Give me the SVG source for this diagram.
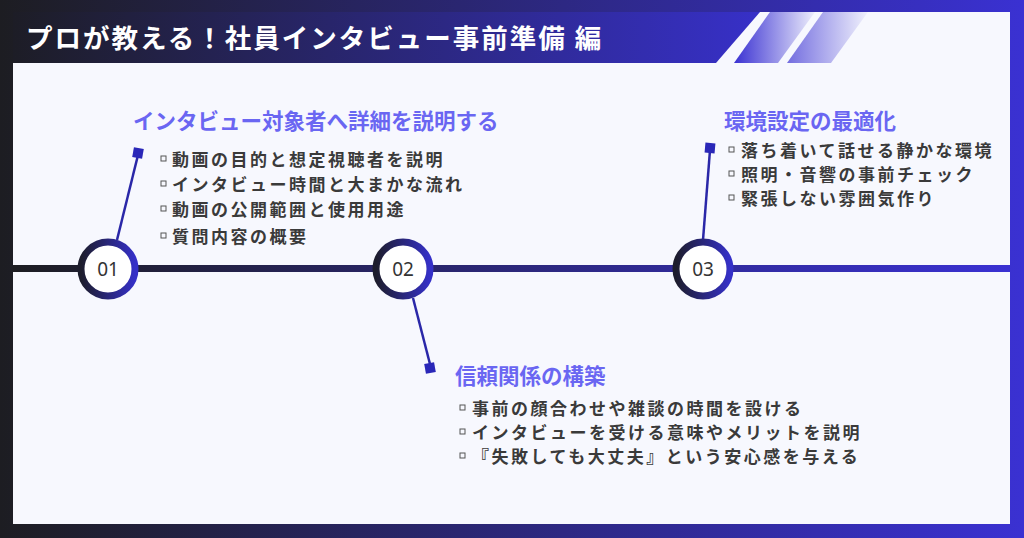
<svg xmlns="http://www.w3.org/2000/svg" width="1024" height="538" viewBox="0 0 1024 538">
<defs>
<linearGradient id="bg" x1="0" y1="0" x2="1" y2="0"><stop offset="0" stop-color="#1d1d22"/><stop offset="1" stop-color="#3a31d2"/></linearGradient>
<linearGradient id="tb" x1="0" y1="0" x2="1" y2="0"><stop offset="0" stop-color="#1d1d26"/><stop offset="1" stop-color="#3730c8"/></linearGradient>
<linearGradient id="st" x1="0" y1="0" x2="1" y2="0"><stop offset="0" stop-color="#3a31d2"/><stop offset="1" stop-color="#3a31d2" stop-opacity="0.05"/></linearGradient>
<linearGradient id="ring" x1="0" y1="0" x2="1" y2="0"><stop offset="0" stop-color="#1d1d2c"/><stop offset="1" stop-color="#3530c8"/></linearGradient>
<style>
.h{font-family:"Noto Sans CJK JP",sans-serif;font-size:21.5px;font-weight:bold;fill:#6a66f2}
.b{font-family:"Noto Sans CJK JP",sans-serif;font-size:17px;font-weight:bold;fill:#3a3a3a;letter-spacing:2.5px}
.m{fill:none;stroke:#555;stroke-width:1}
.n{font-family:"Noto Sans",sans-serif;font-size:19px;fill:#333;text-anchor:middle}
.c{stroke:#2a27a8;stroke-width:2.5}
</style>
</defs>
<rect width="1024" height="538" fill="url(#bg)"/>
<rect x="13" y="12" width="997" height="512" fill="#f7f8fe"/>
<path d="M13 12H760L716 63H13Z" fill="url(#tb)"/>
<path d="M770 12H815L778 63H734Z" fill="url(#st)"/>
<path d="M823 12H868L831 63H787Z" fill="url(#st)" opacity="0.7"/>
<text x="26" y="48" font-family="Noto Sans CJK JP,sans-serif" font-size="26.5" font-weight="bold" fill="#fff" letter-spacing="2">プロが教える！社員インタビュー事前準備 編</text>
<rect x="13" y="265" width="997" height="7" fill="url(#bg)"/>
<g id="connectors">
<line class="c" x1="117" y1="240" x2="138" y2="155"/>
<rect x="133" y="148" width="10" height="10" fill="#2a27b8" transform="rotate(10 138 153)"/>
<line class="c" x1="413" y1="298" x2="431" y2="368"/>
<rect x="425" y="363" width="10" height="10" fill="#2a27b8" transform="rotate(-10 430 368)"/>
<line class="c" x1="703" y1="240" x2="710" y2="150"/>
<rect x="705" y="143" width="10" height="10" fill="#2a27b8" transform="rotate(5 710 148)"/>
</g>
<g id="node1">
<circle cx="108" cy="269" r="27" fill="#fff" stroke="url(#ring)" stroke-width="7"/>
<text class="n" x="108" y="276">01</text>
<text class="h" x="133" y="129">インタビュー対象者へ詳細を説明する</text>
<rect class="m" x="161" y="156" width="5" height="5"/><text class="b" x="172" y="166">動画の目的と想定視聴者を説明</text>
<rect class="m" x="161" y="181" width="5" height="5"/><text class="b" x="172" y="191">インタビュー時間と大まかな流れ</text>
<rect class="m" x="161" y="206" width="5" height="5"/><text class="b" x="172" y="216">動画の公開範囲と使用用途</text>
<rect class="m" x="161" y="233" width="5" height="5"/><text class="b" x="172" y="243">質問内容の概要</text>
</g>
<g id="node2">
<circle cx="403" cy="269" r="27" fill="#fff" stroke="url(#ring)" stroke-width="7"/>
<text class="n" x="403" y="276">02</text>
<text class="h" x="455" y="384">信頼関係の構築</text>
<rect class="m" x="460" y="405" width="5" height="5"/><text class="b" x="472" y="415">事前の顔合わせや雑談の時間を設ける</text>
<rect class="m" x="460" y="429" width="5" height="5"/><text class="b" x="472" y="439">インタビューを受ける意味やメリットを説明</text>
<rect class="m" x="460" y="453" width="5" height="5"/><text class="b" x="472" y="463">『失敗しても大丈夫』という安心感を与える</text>
</g>
<g id="node3">
<circle cx="703" cy="269" r="27" fill="#fff" stroke="url(#ring)" stroke-width="7"/>
<text class="n" x="703" y="276">03</text>
<text class="h" x="724" y="129">環境設定の最適化</text>
<rect class="m" x="729" y="147" width="5" height="5"/><text class="b" x="741" y="157">落ち着いて話せる静かな環境</text>
<rect class="m" x="729" y="171" width="5" height="5"/><text class="b" x="741" y="181">照明・音響の事前チェック</text>
<rect class="m" x="729" y="195" width="5" height="5"/><text class="b" x="741" y="205">緊張しない雰囲気作り</text>
</g>
</svg>
